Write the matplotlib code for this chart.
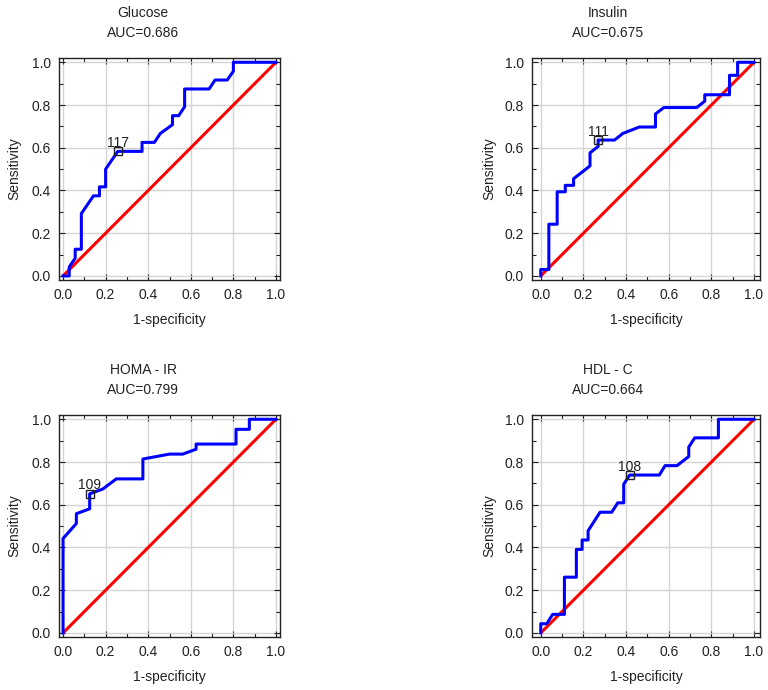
import matplotlib
matplotlib.use("Agg")
import matplotlib.pyplot as plt
from matplotlib.ticker import MultipleLocator

plt.rcParams['font.family'] = ['Liberation Sans', 'DejaVu Sans']

titles = ["Glucose", "Insulin", "HOMA - IR", "HDL - C"]
aucs = ["0.686", "0.675", "0.799", "0.664"]
cut_labels = ["117", "111", "109", "108"]

glucose_fpr = [0.0, 0.029, 0.029, 0.057, 0.057, 0.086, 0.086, 0.143, 0.171, 0.171, 0.2, 0.2,
               0.257, 0.371, 0.371, 0.429, 0.457, 0.514, 0.514, 0.543, 0.571, 0.571, 0.686,
               0.714, 0.771, 0.8, 0.8, 1.0]
glucose_tpr = [0.0, 0.0, 0.042, 0.083, 0.125, 0.125, 0.292, 0.375, 0.375, 0.417, 0.417, 0.5,
               0.583, 0.583, 0.625, 0.625, 0.667, 0.708, 0.75, 0.75, 0.792, 0.875, 0.875,
               0.917, 0.917, 0.958, 1.0, 1.0]
glucose_cut = (0.257, 0.583)

insulin_fpr = [0.0, 0.0, 0.038, 0.038, 0.077, 0.077, 0.115, 0.115, 0.154, 0.154, 0.231, 0.231,
               0.269, 0.269, 0.346, 0.385, 0.462, 0.538, 0.538, 0.577, 0.731, 0.769, 0.769,
               0.885, 0.885, 0.923, 0.923, 1.0]
insulin_tpr = [0.0, 0.03, 0.03, 0.242, 0.242, 0.394, 0.394, 0.424, 0.424, 0.455, 0.515, 0.576,
               0.606, 0.636, 0.636, 0.667, 0.697, 0.697, 0.758, 0.788, 0.788, 0.818, 0.848,
               0.848, 0.939, 0.939, 1.0, 1.0]
insulin_cut = (0.269, 0.636)

homa_fpr = [0.0, 0.0, 0.0625, 0.0625, 0.125, 0.125, 0.1875, 0.25, 0.375, 0.375, 0.5, 0.5625,
            0.625, 0.625, 0.8125, 0.8125, 0.875, 0.875, 1.0]
homa_tpr = [0.0, 0.442, 0.512, 0.558, 0.581, 0.651, 0.674, 0.721, 0.721, 0.814, 0.837, 0.837,
            0.86, 0.884, 0.884, 0.953, 0.953, 1.0, 1.0]
homa_cut = (0.125, 0.651)

hdl_fpr = [0.0, 0.0, 0.028, 0.056, 0.111, 0.111, 0.167, 0.167, 0.194, 0.194, 0.222, 0.222,
           0.278, 0.333, 0.361, 0.389, 0.389, 0.417, 0.556, 0.583, 0.639, 0.694, 0.694, 0.722,
           0.833, 0.833, 1.0]
hdl_tpr = [0.0, 0.043, 0.043, 0.087, 0.087, 0.261, 0.261, 0.391, 0.391, 0.435, 0.435, 0.478,
           0.565, 0.565, 0.609, 0.609, 0.696, 0.739, 0.739, 0.783, 0.783, 0.826, 0.87, 0.913,
           0.913, 1.0, 1.0]
hdl_cut = (0.417, 0.739)

fprs = [glucose_fpr, insulin_fpr, homa_fpr, hdl_fpr]
tprs = [glucose_tpr, insulin_tpr, homa_tpr, hdl_tpr]
cuts = [glucose_cut, insulin_cut, homa_cut, hdl_cut]

W, H = 768, 690
fig = plt.figure(figsize=(W / 100, H / 100), dpi=100)

# axes rectangles in pixels: (left, top, right, bottom)
rects = [(59, 58, 280, 280), (532, 58, 760, 280), (59, 415, 280, 637), (532, 415, 760, 637)]
xlims = [(-0.019, 1.019), (-0.041, 1.028), (-0.019, 1.019), (-0.041, 1.028)]
title_x = [143, 608, 143, 608]
ylabel_x = [14, 489, 14, 489]

for i in range(4):
    l, t, r, b = rects[i]
    ax = fig.add_axes([l / W, 1 - b / H, (r - l) / W, (b - t) / H])
    ax.set_xlim(*xlims[i])
    ax.set_ylim(-0.019, 1.02)
    ax.xaxis.set_major_locator(MultipleLocator(0.2))
    ax.yaxis.set_major_locator(MultipleLocator(0.2))
    ax.xaxis.set_minor_locator(MultipleLocator(0.1))
    ax.yaxis.set_minor_locator(MultipleLocator(0.1))
    ax.set_xticklabels([]) if False else None
    ax.xaxis.set_major_formatter(matplotlib.ticker.FormatStrFormatter('%.1f'))
    ax.yaxis.set_major_formatter(matplotlib.ticker.FormatStrFormatter('%.1f'))
    ax.tick_params(which='both', direction='in', top=True, right=True, color='#222222',
                   width=0.8)
    ax.tick_params(which='major', length=4, labelsize=10, pad=6, labelcolor='#222222')
    ax.tick_params(which='minor', length=3)
    ax.grid(True, which='major', color='#d4d4d4', linewidth=1.0)
    ax.set_axisbelow(True)
    for sp in ax.spines.values():
        sp.set_color('#222222')
        sp.set_linewidth(1.0)

    ax.plot([0, 1], [0, 1], color='#ff0000', linewidth=2.2, solid_capstyle='butt', zorder=3)
    ax.plot(fprs[i], tprs[i], color='#0000ff', linewidth=2.2, zorder=4)
    cx, cy = cuts[i]
    ax.plot([cx], [cy], marker='s', markersize=6, markerfacecolor='none',
            markeredgecolor='#222222', markeredgewidth=1.0, linestyle='none', zorder=5)
    ax.annotate(cut_labels[i], (cx, cy), xytext=(0, 1), textcoords='offset points',
                ha='center', va='bottom', fontsize=10, color='#222222', zorder=6)

    ax.set_xlabel("1-specificity", fontsize=10, color='#222222', labelpad=8)
    fig.text(ylabel_x[i] / W, 1 - ((t + b) / 2) / H, "Sensitivity", rotation=90,
             ha='center', va='center', fontsize=10, color='#222222')
    fig.text(title_x[i] / W, 1 - (t - 45) / H, titles[i], ha='center', va='center',
             fontsize=10, color='#222222')
    fig.text(title_x[i] / W, 1 - (t - 25) / H, "AUC=" + aucs[i], ha='center', va='center',
             fontsize=10, color='#222222')

fig.savefig("out.png", dpi=100)
